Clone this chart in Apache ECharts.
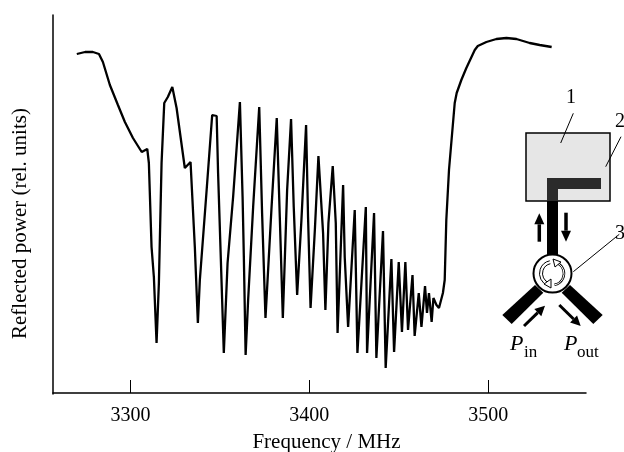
<!DOCTYPE html>
<html>
<head>
<meta charset="utf-8">
<style>
  html, body { margin: 0; padding: 0; background: #fff; }
  #chart { width: 624px; height: 452px; }
</style>
<script src="https://cdn.jsdelivr.net/npm/echarts@6/dist/echarts.min.js"></script>
</head>
<body>
<div id="chart"></div>
<script>
var serif = '"Liberation Serif", serif';
var tickValues = [3300, 3400, 3500];
var frequency = [
  3270, 3274.6, 3279, 3282.4, 3284.6, 3288.5, 3293, 3296.9, 3301.4, 3306.3,
  3309.4, 3310.3, 3311.8, 3313.1, 3314.6, 3315.9, 3317.4, 3318.9, 3320.9, 3323.4,
  3325.8, 3330.4, 3333.6, 3336, 3337.7, 3338.8, 3342.6, 3345.7, 3348.2, 3349,
  3351.8, 3352.2, 3354.3, 3357.4, 3361.2, 3362.7, 3363.4, 3364.4, 3365.8, 3368.6,
  3372, 3373.6, 3375.5, 3378.9, 3381.8, 3383.5, 3385.2, 3387.6, 3389.8, 3391.3,
  3393.2, 3395.6, 3398.2, 3399.3, 3400.7, 3403.1, 3405.1, 3407.7, 3409, 3410.7,
  3413.1, 3414.8, 3415.8, 3418.9, 3419.8, 3421.7, 3425.4, 3426.9, 3431.6, 3432.3,
  3436.2, 3437.5, 3441.2, 3442.7, 3445.9, 3447.4, 3450, 3451.8, 3453.7, 3455.2,
  3457.7, 3458.9, 3461.2, 3462.7, 3464.7, 3465.8, 3466.9, 3468.4, 3469.4, 3471.1,
  3472.5, 3474.7, 3475.7, 3476.6, 3478.1, 3481.3, 3482.4, 3485, 3487.8, 3492.5,
  3494.2, 3499, 3504.6, 3510.2, 3515.8, 3523.2, 3528.8, 3535.5
];
var reflected = [
  339, 341, 341, 339, 331, 308, 288, 271, 255, 241,
  244, 230, 146, 116, 50, 110, 230, 290, 296, 306,
  285, 225, 231, 146, 70, 113, 203, 278, 277, 220,
  63, 40, 130, 196, 291, 196, 136, 38, 93, 186,
  286, 180, 75, 186, 275, 176, 75, 203, 274, 186,
  98, 173, 268, 176, 85, 163, 237, 160, 83, 170,
  227, 170, 60, 208, 136, 66, 183, 40, 186, 40,
  180, 35, 162, 25, 134, 41, 131, 61, 131, 63,
  118, 57, 100, 66, 107, 80, 100, 71, 95, 88,
  85, 100, 113, 173, 223, 290, 300, 313, 325, 343,
  347, 351, 354, 355, 354, 350, 348, 346
];

var chart = echarts.init(document.getElementById('chart'));

function arrow(x1, y1, x2, y2, w, head) {
  var dx = x2 - x1, dy = y2 - y1, len = Math.sqrt(dx * dx + dy * dy);
  var ux = dx / len, uy = dy / len, bx = x2 - ux * head, by = y2 - uy * head;
  return [
    { type: 'line', shape: { x1: x1, y1: y1, x2: bx, y2: by }, style: { stroke: '#000', lineWidth: w } },
    { type: 'polygon', shape: { points: [[x2, y2], [bx - uy * 5, by + ux * 5], [bx + uy * 5, by - ux * 5]] }, style: { fill: '#000' } }
  ];
}
function label(text, x, y, size, italic) {
  return { type: 'text', x: x, y: y, style: { text: text, fill: '#000', font: (italic ? 'italic ' : '') + size + 'px ' + serif } };
}
function leader(x1, y1, x2, y2) {
  return { type: 'line', shape: { x1: x1, y1: y1, x2: x2, y2: y2 }, style: { stroke: '#000', lineWidth: 1 } };
}

var inset = [
  { type: 'rect', shape: { x: 526, y: 133, width: 84, height: 68 }, style: { fill: '#e6e6e6', stroke: '#000', lineWidth: 1.5 } },
  { type: 'polygon', shape: { points: [[511.7, 324], [502.3, 315], [535, 285], [543.3, 292.7]] }, style: { fill: '#000' } },
  { type: 'polygon', shape: { points: [[593.3, 324], [602.7, 315], [570, 285], [561.7, 292.7]] }, style: { fill: '#000' } },
  { type: 'rect', shape: { x: 547, y: 201, width: 11, height: 56 }, style: { fill: '#000' } },
  { type: 'polygon', shape: { points: [[547, 178], [601, 178], [601, 189], [558, 189], [558, 201], [547, 201]] }, style: { fill: '#2b2b2b' } },
  { type: 'circle', shape: { cx: 552.5, cy: 273.5, r: 19 }, style: { fill: '#fff', stroke: '#000', lineWidth: 2 } },
  { type: 'arc', shape: { cx: 552.5, cy: 273.5, r: 13, startAngle: 1.9, endAngle: 4.5 }, style: { stroke: '#000', fill: null, lineWidth: 1 } },
  { type: 'arc', shape: { cx: 552.5, cy: 273.5, r: 10, startAngle: 1.9, endAngle: 4.5 }, style: { stroke: '#000', fill: null, lineWidth: 1 } },
  { type: 'arc', shape: { cx: 552.5, cy: 273.5, r: 11.5, startAngle: -1.1, endAngle: 1.4 }, style: { stroke: '#000', fill: null, lineWidth: 2.5 } },
  { type: 'arc', shape: { cx: 552.5, cy: 273.5, r: 11.5, startAngle: -1.1, endAngle: 1.4 }, style: { stroke: '#fff', fill: null, lineWidth: 1 } },
  { type: 'polygon', shape: { points: [[553, 259], [561, 262], [555, 267]] }, style: { fill: '#fff', stroke: '#000', lineWidth: 1 } },
  { type: 'polygon', shape: { points: [[551, 288], [544, 284], [551, 279]] }, style: { fill: '#fff', stroke: '#000', lineWidth: 1 } },
  leader(573.3, 113.3, 560.7, 143),
  leader(621, 136.7, 605.7, 166.7),
  leader(619.3, 234.3, 573.3, 271.7),
  label('1', 566, 88, 20),
  label('2', 615, 112, 20),
  label('3', 615, 224, 20),
  label('P', 510, 333, 22, true),
  label('in', 524, 344, 17),
  label('P', 564, 333, 22, true),
  label('out', 577, 344, 17)
].concat(
  arrow(539.3, 241.7, 539.3, 213.3, 3.5, 11),
  arrow(566, 212.7, 566, 241.7, 3.5, 11),
  arrow(524, 326, 545, 305.7, 3, 10),
  arrow(559.3, 305, 580.7, 326, 3, 10)
);

chart.setOption({
  animation: false,
  backgroundColor: '#fff',
  grid: { left: 53, right: 38, top: 15, bottom: 58, outerBoundsMode: 'none' },
  xAxis: {
    type: 'value',
    min: 3256.7,
    max: 3554.7,
    name: 'Frequency / MHz',
    nameLocation: 'middle',
    nameGap: 38,
    nameTextStyle: { color: '#000', fontFamily: serif, fontSize: 21, padding: [0, 0, 0, 14] },
    splitLine: { show: false },
    axisLine: { lineStyle: { color: '#000', width: 1.5 } },
    axisTick: { inside: true, length: 13, customValues: tickValues, lineStyle: { color: '#000', width: 1 } },
    axisLabel: {
      color: '#000', fontFamily: serif, fontSize: 20, margin: 12, customValues: tickValues,
      formatter: function (v) { return String(v); }
    }
  },
  yAxis: {
    type: 'value',
    min: -1,
    max: 378,
    name: 'Reflected power (rel. units)',
    nameLocation: 'middle',
    nameGap: 22,
    nameTextStyle: { color: '#000', fontFamily: serif, fontSize: 21, padding: [0, 38, 0, 0] },
    splitLine: { show: false },
    axisLine: { show: true, lineStyle: { color: '#000', width: 1.5 } },
    axisTick: { show: false },
    axisLabel: { show: false }
  },
  series: [{
    type: 'line',
    symbol: 'none',
    lineStyle: { color: '#000', width: 2.3 },
    data: frequency.map(function (f, i) { return [f, reflected[i]]; })
  }],
  graphic: inset
});
</script>
</body>
</html>
